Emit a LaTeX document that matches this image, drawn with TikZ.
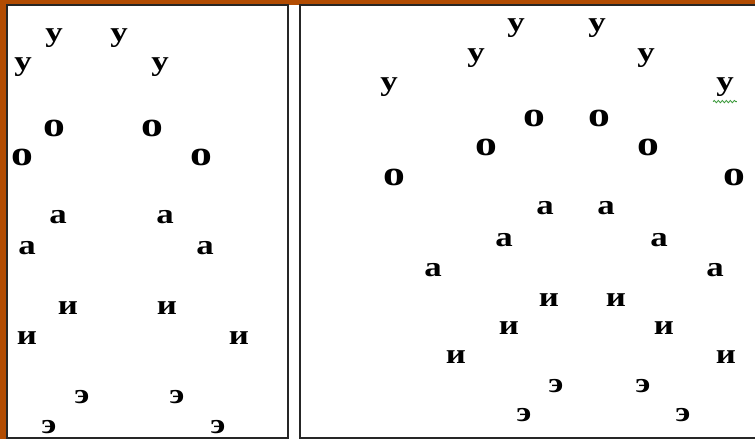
\documentclass[tikz,border=0pt]{standalone}
\usepackage{fontspec}
\newfontfamily\vowelfont[FakeStretch=1.25]{Liberation Serif}
\usetikzlibrary{decorations.pathmorphing}
\definecolor{slideorange}{HTML}{B24C02}
\definecolor{spellgreen}{HTML}{3C9A3C}

\begin{document}
\begin{tikzpicture}[x=1bp, y=-1bp,
    panel/.style={draw=black!85, line width=1.6bp, fill=white},
    vowel/.style={inner sep=0pt, font=\vowelfont\bfseries\fontsize{28}{28}\selectfont},
    bigvowel/.style={inner sep=0pt, font=\vowelfont\bfseries\fontsize{35}{35}\selectfont},
    squiggle/.style={spellgreen, line width=0.8bp, decorate,
                     decoration={snake, amplitude=1.2bp, segment length=4bp}}]
  \useasboundingbox (0,0) rectangle (755,439);
  % slide background
  \fill[white] (0,0) rectangle (755,439);
  \fill[slideorange] (0,0) rectangle (755,5);
  \fill[slideorange] (0,0) rectangle (7,439);
  % the two panels
  \path[panel] (7,5) rectangle (288,438);
  \path[panel] (300,5) rectangle (760,438);
  % left panel
  \foreach \x/\y [count=\i] in {23/67, 54/38, 119/38, 160/67}
    \node[vowel] (lu\i) at (\x,\y) {у};
  \foreach \x/\y [count=\i] in {22/157, 54/128, 152/128, 201/157}
    \node[bigvowel] (lo\i) at (\x,\y) {о};
  \foreach \x/\y [count=\i] in {27/248, 58/217, 165/217, 205/248}
    \node[vowel] (la\i) at (\x,\y) {а};
  \foreach \x/\y [count=\i] in {27/338, 68/308, 167/308, 239/338}
    \node[vowel] (li\i) at (\x,\y) {и};
  \foreach \x/\y [count=\i] in {49/427, 82/397, 177/397, 218/427}
    \node[vowel] (le\i) at (\x,\y) {э};
  % right panel
  \foreach \x/\y [count=\i] in {389/87, 476/58, 516/28, 597/28, 646/58, 725/87}
    \node[vowel] (ru\i) at (\x,\y) {у};
  \foreach \x/\y [count=\i] in {394/177, 486/147, 534/118, 599/118, 648/147, 734/177}
    \node[bigvowel] (ro\i) at (\x,\y) {о};
  \foreach \x/\y [count=\i] in {433/270, 504/240, 545/208, 606/208, 659/240, 715/270}
    \node[vowel] (ra\i) at (\x,\y) {а};
  \foreach \x/\y [count=\i] in {456/357, 509/328, 549/300, 616/300, 664/328, 726/357}
    \node[vowel] (ri\i) at (\x,\y) {и};
  \foreach \x/\y [count=\i] in {524/415, 556/386, 643/386, 683/415}
    \node[vowel] (re\i) at (\x,\y) {э};
  % spell-check mark
  \draw[squiggle] ([xshift=-3bp, yshift=-5bp]ru6.south west) -- ([xshift=3bp, yshift=-5bp]ru6.south east);
\end{tikzpicture}
\end{document}
